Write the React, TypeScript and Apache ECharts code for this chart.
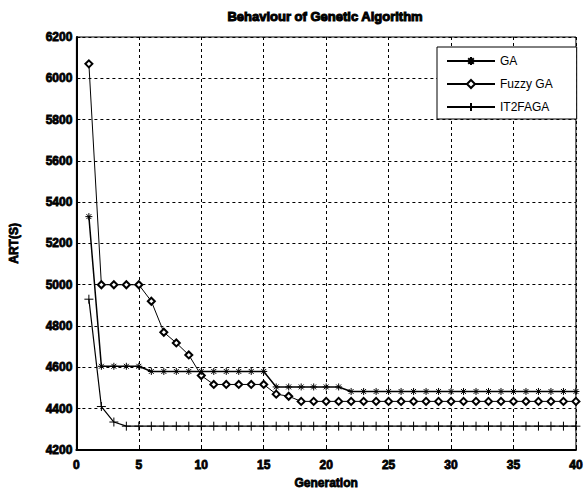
import React, { useEffect, useRef } from "react";
import * as echarts from "echarts";

const generations = [
  1, 2, 3, 4, 5, 6, 7, 8, 9, 10, 11, 12, 13, 14, 15, 16, 17, 18, 19, 20,
  21, 22, 23, 24, 25, 26, 27, 28, 29, 30, 31, 32, 33, 34, 35, 36, 37, 38, 39, 40,
];

const gaValues = [
  5330, 4605, 4605, 4605, 4605, 4580, 4580, 4580, 4580, 4580,
  4580, 4580, 4580, 4580, 4580, 4505, 4505, 4505, 4505, 4505,
  4505, 4483, 4483, 4483, 4483, 4483, 4483, 4483, 4483, 4483,
  4483, 4483, 4483, 4483, 4483, 4483, 4483, 4483, 4483, 4483,
];

const fuzzyGaValues = [
  6070, 5000, 5000, 5000, 5000, 4920, 4770, 4718, 4660, 4560,
  4517, 4517, 4517, 4517, 4517, 4470, 4460, 4435, 4435, 4435,
  4435, 4435, 4435, 4435, 4435, 4435, 4435, 4435, 4435, 4435,
  4435, 4435, 4435, 4435, 4435, 4435, 4435, 4435, 4435, 4435,
];

const it2fagaValues = [
  4930, 4410, 4335, 4315, 4315, 4315, 4315, 4315, 4315, 4315,
  4315, 4315, 4315, 4315, 4315, 4315, 4315, 4315, 4315, 4315,
  4315, 4315, 4315, 4315, 4315, 4315, 4315, 4315, 4315, 4315,
  4315, 4315, 4315, 4315, 4315, 4315, 4315, 4315, 4315, 4315,
];

const seriesNames = ["GA", "Fuzzy GA", "IT2FAGA"];
const titleText = "Behaviour of Genetic Algorithm";
const xAxisName = "Generation";
const yAxisName = "ART(S)";

const FONT = "'Liberation Sans', Arial, sans-serif";

const pairs = (vals: number[]) => generations.map((g, i) => [g, vals[i]]);

export default function App() {
  const ref = useRef<HTMLDivElement>(null);

  useEffect(() => {
    if (!ref.current) return;
    const chart = echarts.init(ref.current, undefined, { renderer: "svg" });
    const boldLabel = {
      color: "#000",
      fontFamily: FONT,
      fontSize: 12,
      fontWeight: "bold" as const,
      textBorderColor: "#000",
      textBorderWidth: 0.8,
    };
    const gridLine = {
      show: true,
      lineStyle: { color: "#000", type: [3, 3] as any, width: 1 },
    };
    chart.setOption({
      animation: false,
      backgroundColor: "#fff",
      graphic: [
        {
          type: "text",
          x: 325,
          y: 10,
          style: {
            text: titleText,
            textAlign: "center",
            fill: "#000",
            font: `bold 13px ${FONT}`,
            stroke: "#000",
            lineWidth: 1,
          },
        },
      ],
      grid: {
        left: 73,
        right: 3,
        top: 37,
        bottom: 42,
        show: true,
        borderColor: "#000",
        borderWidth: 1,
        backgroundColor: "transparent",
      },
      legend: {
        left: 437,
        top: 47,
        orient: "vertical",
        backgroundColor: "#fff",
        borderColor: "#000",
        borderWidth: 1,
        borderRadius: 0,
        padding: [8, 24, 6, 9],
        itemWidth: 48,
        itemHeight: 10,
        itemGap: 11,
        data: seriesNames,
        textStyle: { color: "#000", fontFamily: FONT, fontSize: 12 },
      },
      xAxis: {
        type: "value",
        min: 0,
        max: 40,
        interval: 5,
        name: xAxisName,
        nameLocation: "middle",
        nameGap: 26,
        nameTextStyle: { ...boldLabel },
        axisLine: { show: true, onZero: false, lineStyle: { color: "#000", width: 2 } },
        axisTick: { show: true, inside: true, length: 4, lineStyle: { color: "#000" } },
        axisLabel: { ...boldLabel, margin: 9, formatter: (v: number) => String(v) },
        splitLine: gridLine,
      },
      yAxis: {
        type: "value",
        min: 4200,
        max: 6200,
        interval: 200,
        name: yAxisName,
        nameLocation: "middle",
        nameGap: 56,
        nameRotate: 90,
        nameTextStyle: { ...boldLabel },
        axisLine: { show: true, onZero: false, lineStyle: { color: "#000", width: 2 } },
        axisTick: { show: true, inside: true, length: 4, lineStyle: { color: "#000" } },
        axisLabel: { ...boldLabel, margin: 4, formatter: (v: number) => String(v) },
        splitLine: gridLine,
      },
      series: [
        {
          name: seriesNames[0],
          type: "line",
          data: pairs(gaValues),
          symbol: "path://M5,0L5,10M0,5L10,5M1.5,1.5L8.5,8.5M1.5,8.5L8.5,1.5",
          symbolSize: 7,
          lineStyle: { color: "#000", width: 1.5 },
          itemStyle: { color: "#000", borderColor: "#000", borderWidth: 1 },
          z: 3,
        },
        {
          name: seriesNames[1],
          type: "line",
          data: pairs(fuzzyGaValues),
          symbol: "emptyDiamond",
          symbolSize: 7,
          lineStyle: { color: "#000", width: 1 },
          itemStyle: { color: "#000", borderWidth: 1 },
          z: 2,
        },
        {
          name: seriesNames[2],
          type: "line",
          data: pairs(it2fagaValues),
          symbol: "path://M5,0L5,10M0,5L10,5",
          symbolSize: 9,
          lineStyle: { color: "#000", width: 1.2 },
          itemStyle: { color: "#000", borderColor: "#000", borderWidth: 1 },
          z: 2,
        },
      ],
    });
    return () => chart.dispose();
  }, []);

  return (
    <div
      ref={ref}
      style={{ position: "fixed", left: 0, top: 0, width: 586, height: 494, background: "#fff" }}
    />
  );
}
